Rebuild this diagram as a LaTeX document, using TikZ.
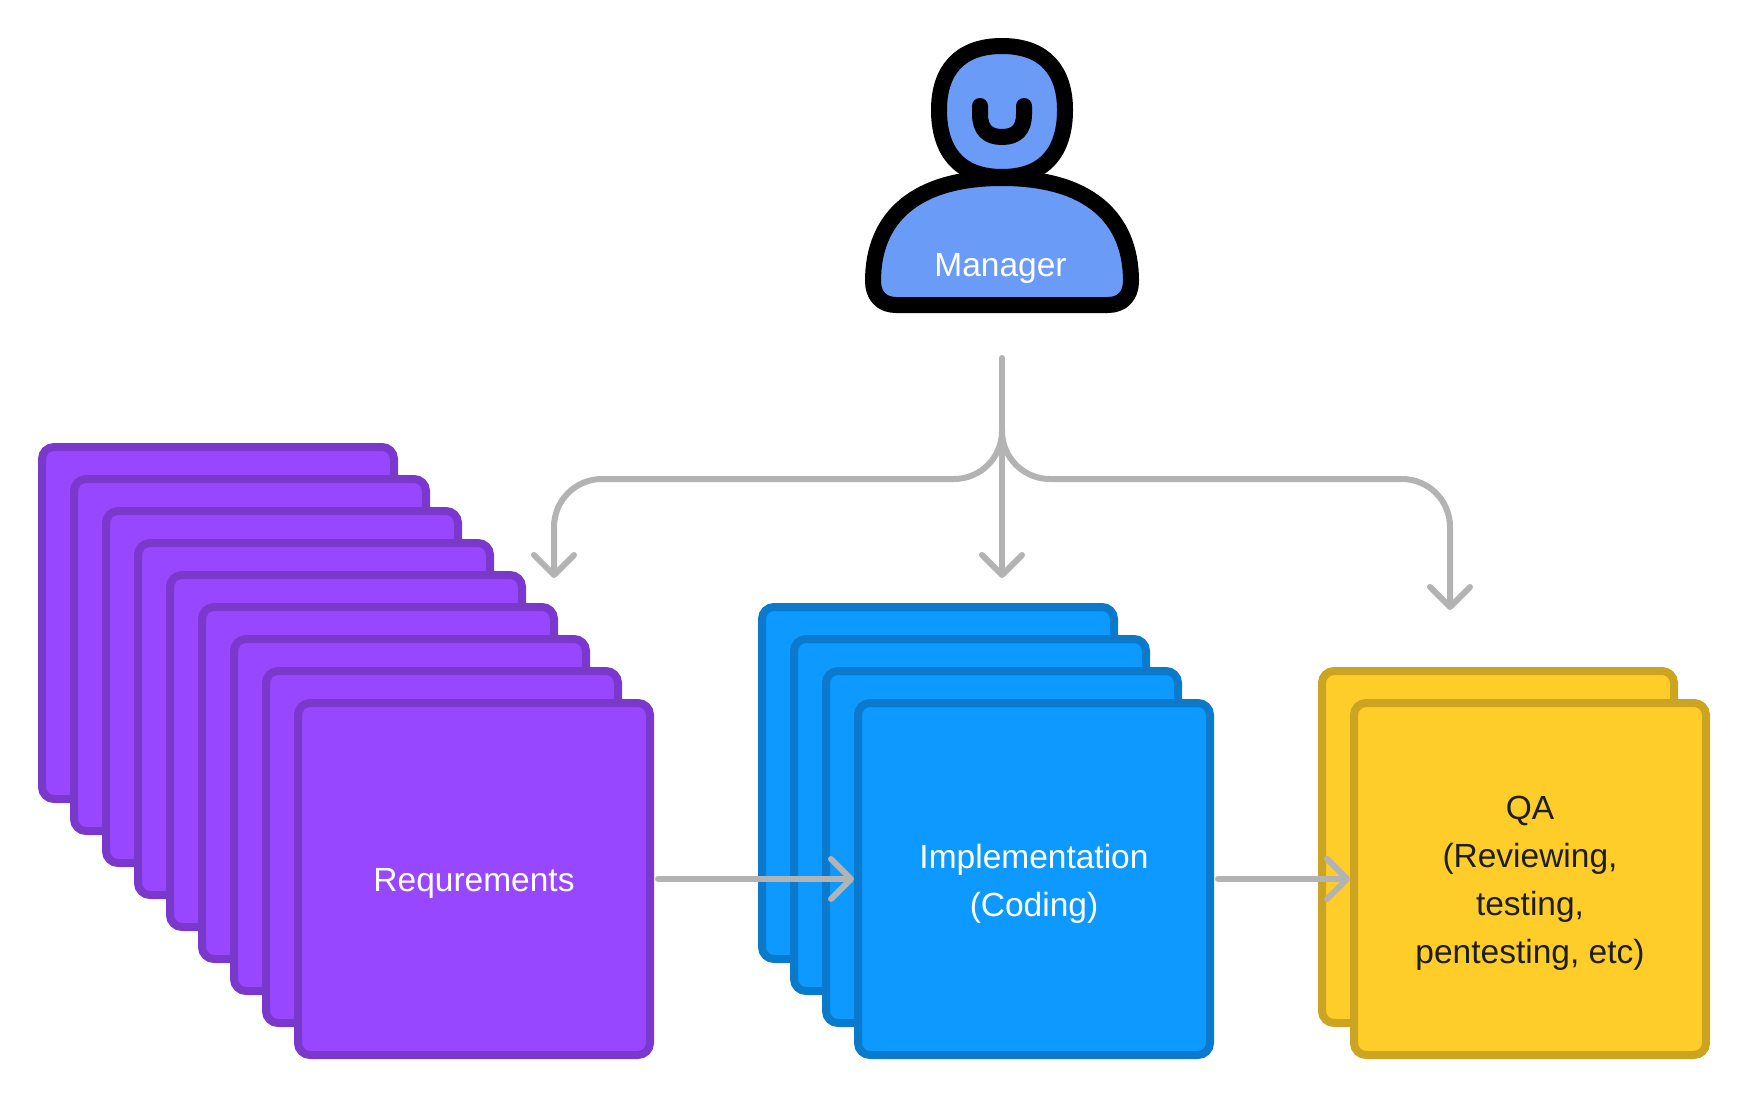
\documentclass[tikz,border=0pt]{standalone}
\usepackage{fontspec}
\setmainfont{Liberation Sans}
\usetikzlibrary{arrows.meta}
\definecolor{pfill}{HTML}{9747FF}\definecolor{pline}{HTML}{7A39CC}
\definecolor{bfill}{HTML}{0D99FF}\definecolor{bline}{HTML}{0B7ACC}
\definecolor{yfill}{HTML}{FFCD29}\definecolor{yline}{HTML}{CCA421}
\definecolor{mfill}{HTML}{699BF7}\definecolor{conn}{HTML}{B3B3B3}
\definecolor{ink}{HTML}{1E1E1E}
\newcommand{\lowered}[1]{\raisebox{-4.5pt}[\height][\depth]{#1}}
\tikzset{
 card/.style={draw,rectangle,rounded corners=12pt,line width=8pt,minimum width=352pt,minimum height=352pt,inner sep=0pt,align=center,font=\fontsize{33.5}{48}\selectfont},
 pcard/.style={card,fill=pfill,draw=pline,text=white},
 bcard/.style={card,fill=bfill,draw=bline,text=white},
 ycard/.style={card,fill=yfill,draw=yline,text=ink},
 person/.style={draw=black,fill=mfill,line width=16pt,line join=round,line cap=round},
 arr/.style={draw=conn,line width=6pt,line cap=round,line join=round,-{Straight Barb[length=20pt,width=40pt,line width=6pt,round]}},
 lineonly/.style={draw=conn,line width=6pt,line cap=round},
}
\begin{document}
\begin{tikzpicture}[x=1pt,y=-1pt]
\useasboundingbox[fill=white] (0,0) rectangle (1755,1099);
% purple stack
\foreach \i in {0,...,7}{\node[pcard] (p\i) at ({218+32*\i},{623+32*\i}) {};}
\node[pcard] (req) at (474,879) {\lowered{Requrements}};
% blue stack
\foreach \i in {0,1,2}{\node[bcard] (b\i) at ({938+32*\i},{783+32*\i}) {};}
\node[bcard] (impl) at (1034,879) {\lowered{Implementation}\\\lowered{(Coding)}};
% yellow stack
\node[ycard] (y0) at (1498,847) {};
\node[ycard] (qa) at (1530,879) {\lowered{QA}\\\lowered{(Reviewing,}\\\lowered{testing,}\\\lowered{pentesting, etc)}};
% person
\path[person] (1002,178) .. controls (1088,178) and (1131,217) .. (1131,281)
  .. controls (1131,296) and (1122,305) .. (1108,305) -- (896,305)
  .. controls (882,305) and (873,296) .. (873,281)
  .. controls (873,217) and (916,178) .. (1002,178) -- cycle;
\path[person] (1002,46) .. controls (1045,46) and (1065,71) .. (1065,110)
  .. controls (1065,149) and (1047,177) .. (1002,177)
  .. controls (957,177) and (939,149) .. (939,110)
  .. controls (939,71) and (959,46) .. (1002,46) -- cycle;
\draw[black,line width=16pt,line cap=round] (980,106) -- (980,114) .. controls (980,130) and (988,137) .. (1002,137) .. controls (1016,137) and (1024,130) .. (1024,114) -- (1024,106);
\node[text=white,inner sep=0pt,font=\fontsize{33.5}{36}\selectfont] (mgr) at (1000.5,268) {Manager};
% connectors
\coordinate (start) at (1002,358);
\coordinate (split) at (1002,431);
\coordinate (lk) at (554,479);
\coordinate (rk) at (1450,479);
\coordinate (lt) at (554,578);
\coordinate (mt) at (1002,578);
\coordinate (rt) at (1450,610);
\draw[lineonly] (start) -- (split);
\draw[arr] (split) -- (mt);
\draw[arr,rounded corners=48pt] (split) -- (1002,479) -- (lk) -- (lt);
\draw[arr,rounded corners=48pt] (split) -- (1002,479) -- (rk) -- (rt);
\draw[arr,shorten <=4pt] (req.east) -- (impl.west);
\draw[arr,shorten <=4pt] (impl.east) -- (qa.west);
\end{tikzpicture}
\end{document}
